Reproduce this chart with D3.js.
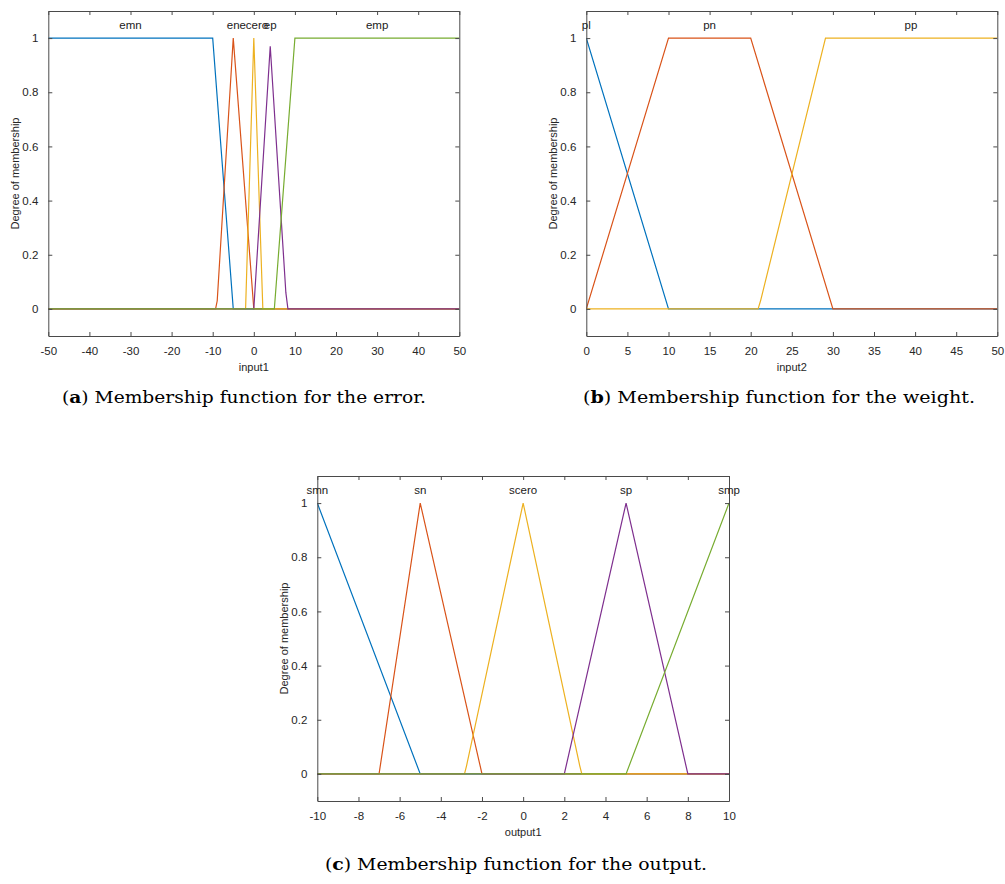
<!DOCTYPE html>
<html>
<head>
<meta charset="utf-8">
<script src="https://cdn.jsdelivr.net/npm/d3@7"></script>
<style>
  body { margin: 0; background: #fff; }
  svg { display: block; }
  .tick text { font-family: "Liberation Sans", Arial, sans-serif; font-size: 11.5px; fill: #262626; }
</style>
</head>
<body>
<script>
let W = 1005, H = 884;

let matlabColors = ["#0072BD", "#D95319", "#EDB120", "#7E2F8E", "#77AC30"];

// (a) input1 - error
let errNames = ["emn", "en", "ecero", "ep", "emp"];
let errLabelX = [-30, -5, 0, 4, 30];
let errX = [
  [-50, -10, -5, 50],
  [-50, -9.3, -8.9, -5, 0, 50],
  [-50, -2, 0, 2.2, 50],
  [-50, 0, 4, 7.8, 8.3, 50],
  [-50, 5, 10, 50]
];
let errY = [
  [1, 1, 0, 0],
  [0, 0, 0.03, 1, 0, 0],
  [0, 0, 1, 0, 0],
  [0, 0, 0.97, 0.06, 0, 0],
  [0, 0, 1, 1]
];
let errTicks = [-50, -40, -30, -20, -10, 0, 10, 20, 30, 40, 50];

// (b) input2 - weight
let wNames = ["pl", "pn", "pp"];
let wLabelX = [0, 15, 39.5];
let wX = [
  [0, 10, 50],
  [0, 10, 20, 30, 50],
  [0, 20.9, 21.2, 29.1, 50]
];
let wY = [
  [1, 0, 0],
  [0, 1, 1, 0, 0],
  [0, 0, 0.03, 1, 1]
];
let wTicks = [0, 5, 10, 15, 20, 25, 30, 35, 40, 45, 50];

// (c) output1
let outNames = ["smn", "sn", "scero", "sp", "smp"];
let outLabelX = [-10, -5, 0, 5, 10];
let outX = [
  [-10, -5, 10],
  [-10, -7, -5, -2, 10],
  [-10, -2.85, -2.75, 0, 2.75, 2.85, 10],
  [-10, 2, 5, 8, 10],
  [-10, 5, 10]
];
let outY = [
  [1, 0, 0],
  [0, 0, 1, 0, 0],
  [0, 0, 0.03, 1, 0.03, 0, 0],
  [0, 0, 1, 0, 0],
  [0, 0, 1]
];
let outTicks = [-10, -8, -6, -4, -2, 0, 2, 4, 6, 8, 10];

let yTicks = [0, 0.2, 0.4, 0.6, 0.8, 1];

let svg = d3.select("body")
  .append("svg")
  .attr("width", W)
  .attr("height", H);

// plain hyphen minus like the MATLAB figure
let fmt = d => String(d);

let drawPanel = (id, box, domain, xTicks, xs, ys, names, labelX, xLabel) =>
{
  let xScale = d3.scaleLinear().domain(domain).range([box.lef, box.rig]);
  let yScale = d3.scaleLinear().domain([-0.1, 1.1]).range([box.bot, box.top]);
  let g = svg.append("g").attr("id", id);

  g.append("clipPath").attr("id", "clip-" + id)
    .append("rect")
    .attr("x", box.lef).attr("y", box.top)
    .attr("width", box.rig - box.lef).attr("height", box.bot - box.top);

  let line = d3.line().x(d => xScale(d[0])).y(d => yScale(d[1]));
  let lines = g.append("g").attr("clip-path", "url(#clip-" + id + ")");
  xs.forEach((xv, i) =>
  {
    lines.append("path")
      .datum(xv.map((v, j) => [v, ys[i][j]]))
      .attr("d", line)
      .attr("fill", "none")
      .attr("stroke", matlabColors[i])
      .attr("stroke-width", 1.2);
  });

  // axes, MATLAB style box with inward ticks
  let axisStyle = (sel) =>
  {
    sel.select(".domain").attr("stroke", "#4a4a4a").attr("stroke-width", 1);
    sel.selectAll(".tick line").attr("stroke", "#4a4a4a");
  };
  g.append("g")
    .attr("transform", "translate(0," + box.bot + ")")
    .call(d3.axisBottom(xScale).tickValues(xTicks).tickSize(-4).tickSizeOuter(0).tickPadding(11).tickFormat(fmt))
    .call(axisStyle);
  g.append("g")
    .attr("transform", "translate(0," + box.top + ")")
    .call(d3.axisTop(xScale).tickValues(xTicks).tickSize(-4).tickSizeOuter(0).tickFormat(""))
    .call(axisStyle);
  g.append("g")
    .attr("transform", "translate(" + box.lef + ",0)")
    .call(d3.axisLeft(yScale).tickValues(yTicks).tickSize(-4).tickSizeOuter(0).tickPadding(10).tickFormat(fmt))
    .call(axisStyle);
  g.append("g")
    .attr("transform", "translate(" + box.rig + ",0)")
    .call(d3.axisRight(yScale).tickValues(yTicks).tickSize(-4).tickSizeOuter(0).tickFormat(""))
    .call(axisStyle);

  g.selectAll(".mflabel")
    .data(names)
    .enter()
    .append("text")
    .attr("class", "mflabel")
    .text(d => d)
    .attr("x", (d, i) => xScale(labelX[i]))
    .attr("y", yScale(1.05) + 4)
    .attr("text-anchor", "middle")
    .attr("font-family", "Liberation Sans, Arial, sans-serif")
    .attr("font-size", "11.5px")
    .attr("fill", "#1a1a1a");

  g.append("text")
    .text(xLabel)
    .attr("x", (box.lef + box.rig) / 2)
    .attr("y", box.bot + 35)
    .attr("text-anchor", "middle")
    .attr("font-family", "Liberation Sans, Arial, sans-serif")
    .attr("font-size", "11px")
    .attr("fill", "#262626");

  g.append("text")
    .text("Degree of membership")
    .attr("transform", "rotate(-90)")
    .attr("x", -(box.top + box.bot) / 2)
    .attr("y", box.lef - 29)
    .attr("text-anchor", "middle")
    .attr("font-family", "Liberation Sans, Arial, sans-serif")
    .attr("font-size", "11px")
    .attr("fill", "#262626");
};

drawPanel("pa", {lef: 48.3, rig: 459.3, top: 11, bot: 336}, [-50, 50], errTicks, errX, errY, errNames, errLabelX, "input1");
drawPanel("pb", {lef: 586.3, rig: 997.3, top: 11, bot: 336}, [0, 50], wTicks, wX, wY, wNames, wLabelX, "input2");
drawPanel("pc", {lef: 317.3, rig: 729, top: 476, bot: 801}, [-10, 10], outTicks, outX, outY, outNames, outLabelX, "output1");

let drawCaption = (letter, rest, x0, x1, base) =>
{
  let t = svg.append("text")
    .attr("x", x0)
    .attr("y", base)
    .attr("textLength", x1 - x0)
    .attr("lengthAdjust", "spacingAndGlyphs")
    .attr("font-family", "DejaVu Serif, serif")
    .attr("font-size", "16.5px")
    .attr("fill", "#000");
  t.append("tspan").text("(");
  t.append("tspan").text(letter).attr("font-weight", "bold");
  t.append("tspan").text(") " + rest);
};
drawCaption("a", "Membership function for the error.", 62, 426, 402.5);
drawCaption("b", "Membership function for the weight.", 583, 975, 402.5);
drawCaption("c", "Membership function for the output.", 325, 707, 869.5);
</script>
</body>
</html>
